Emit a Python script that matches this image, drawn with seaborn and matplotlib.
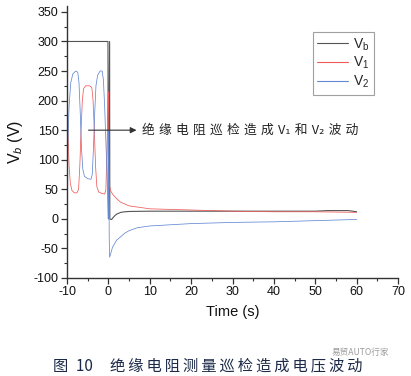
import numpy as np
import pandas as pd
import matplotlib
matplotlib.use("Agg")
import matplotlib.pyplot as plt
import seaborn as sns

# ---------------- data ----------------
vb_t = [-10, -0.1, 0.0, 0.3, 0.35, 0.6, 0.8, 1.0, 1.5, 2.0, 3.0, 4.0, 5.0, 10, 20, 30, 40, 50, 53, 58, 60]
vb_v = [300, 300, 0, 300, 0, -1, -1, 1, 5, 8, 11, 12, 12.5, 13, 13, 13, 13, 13, 14, 14, 12]

v1_t = [-10, -9.8, -9.5, -9.2, -8.8, -8.2, -7.6, -7.2, -6.9, -6.6, -6.3, -6.0, -5.5, -4.5, -4.0, -3.7,
        -3.4, -3.1, -2.8, -2.3, -1.5, -0.9, -0.6, -0.3, -0.1, 0.0, 0.1, 0.2, 0.5, 1, 2, 3, 4, 5, 7, 10,
        15, 20, 30, 40, 50, 60]
v1_v = [210, 150, 90, 60, 48, 44, 44, 50, 90, 150, 200, 220, 225, 225, 222, 200,
        150, 90, 55, 45, 43, 42, 50, 130, 200, 215, 120, 60, 48, 42, 34, 28, 25, 22, 20, 17,
        16, 15, 13, 12, 12, 11]

v2_t = [-10, -9.8, -9.5, -9.1, -8.6, -7.9, -7.4, -7.1, -6.8, -6.5, -6.2, -5.8, -5.0, -4.2, -3.9, -3.6,
        -3.3, -3.0, -2.6, -2.0, -1.5, -1.2, -0.9, -0.6, -0.3, 0.0, 0.1, 0.2, 0.3, 0.6, 1, 2, 3, 4, 5,
        7, 10, 15, 20, 30, 40, 50, 60]
v2_v = [80, 130, 190, 230, 245, 250, 248, 230, 180, 120, 85, 72, 68, 67, 75, 120,
        180, 225, 243, 250, 250, 235, 190, 130, 70, 0, 150, -30, -65, -58, -48, -36, -30, -24, -20,
        -15, -12, -10, -8, -6, -5, -3, -1]

series_names = ["V$_\\mathrm{b}$", "V$_1$", "V$_2$"]
series_colors = ["#555555", "#f05a5a", "#6388d4"]

x_ticks = [-10, 0, 10, 20, 30, 40, 50, 60, 70]
y_ticks = [-100, -50, 0, 50, 100, 150, 200, 250, 300, 350]

annot_tokens = ["绝", "缘", "电", "阻", "巡", "检", "造", "成", "V₁", "和", "V₂", "波", "动"]
caption_chars = ["绝", "缘", "电", "阻", "测", "量", "巡", "检", "造", "成", "电", "压", "波", "动"]

# ---------------- style ----------------
sns.set_theme(style="ticks")
plt.rcParams["font.family"] = ["Liberation Sans", "DejaVu Sans"]
plt.rcParams["mathtext.fontset"] = "custom"
plt.rcParams["mathtext.rm"] = "Liberation Sans"
plt.rcParams["mathtext.it"] = "Liberation Sans:italic"
plt.rcParams["mathtext.bf"] = "Liberation Sans:bold"
plt.rcParams["axes.unicode_minus"] = False

fig = plt.figure(figsize=(4.11, 3.76), dpi=100)
fig.patch.set_facecolor("white")
ax = fig.add_axes([67 / 411, 1 - 278 / 376, (398 - 67) / 411, (278 - 6) / 376])
ax.set_facecolor("white")

dfs = [
    pd.DataFrame({"t": vb_t, "v": vb_v}),
    pd.DataFrame({"t": v1_t, "v": v1_v}),
    pd.DataFrame({"t": v2_t, "v": v2_v}),
]
lws = [0.8, 0.55, 0.55]
for df, name, col, lw in zip(dfs, series_names, series_colors, lws):
    sns.lineplot(data=df, x="t", y="v", sort=False, estimator=None, color=col,
                 linewidth=lw, label=name, ax=ax)

ax.set_xlim(-10, 70)
ax.set_ylim(-100, 360)
ax.set_xticks(x_ticks)
ax.set_yticks(y_ticks)
ax.set_xticks(np.arange(-5, 70, 10), minor=True)
ax.set_yticks(np.arange(-75, 360, 50), minor=True)
ax.tick_params(axis="both", which="major", direction="out", length=4, width=0.9,
               color="#333333", labelsize=9, labelcolor="#111111", pad=2)
ax.tick_params(axis="both", which="minor", direction="out", length=2.2, width=0.8, color="#333333")
for s in ["top", "right"]:
    ax.spines[s].set_visible(False)
for s in ["left", "bottom"]:
    ax.spines[s].set_color("#333333")
    ax.spines[s].set_linewidth(1.0)

ax.set_xlabel("Time (s)", fontsize=10.5, color="#111111", labelpad=5)
ax.set_ylabel("V$_b$ (V)", fontsize=11.5, color="#111111", labelpad=6)

leg = ax.legend(loc="upper left", bbox_to_anchor=(313 / 411, 1 - 32 / 376),
                bbox_transform=fig.transFigure, frameon=True, fancybox=False,
                fontsize=10, handlelength=2.2, handletextpad=0.4, labelspacing=0.18,
                borderpad=0.3, borderaxespad=0)
leg.get_frame().set_edgecolor("#888888")
leg.get_frame().set_linewidth(0.8)
for line in leg.get_lines():
    line.set_linewidth(0.8)

# annotation arrow and text
ax.annotate("", xy=(6.8, 150), xytext=(-4.8, 150),
            arrowprops=dict(arrowstyle="-|>", color="#333333", lw=0.8,
                            mutation_scale=9, shrinkA=0, shrinkB=0))
ax.text(8.1, 150, "\u2004".join(annot_tokens), fontsize=9.2, va="center", ha="left",
        color="#222222", family=["Noto Sans CJK SC", "DejaVu Sans"])

# caption
fig.text(53 / 411, 1 - 366 / 376, "图\u200210", fontsize=11, va="center", ha="left",
         color="#1c2a48", family=["Noto Sans CJK SC", "DejaVu Sans"])
fig.text(110 / 411, 1 - 366 / 376, "\u2009".join(caption_chars), fontsize=11,
         va="center", ha="left", color="#1c2a48", family=["Noto Sans CJK SC", "DejaVu Sans"])
# watermark
fig.text(332 / 411, 1 - 352 / 376, "易贸AUTO行家", fontsize=6.2, va="center", ha="left",
         color="#8a8a8a", alpha=0.85, family=["Noto Sans CJK SC", "DejaVu Sans"])

fig.savefig("out.png", dpi=100, facecolor="white")
